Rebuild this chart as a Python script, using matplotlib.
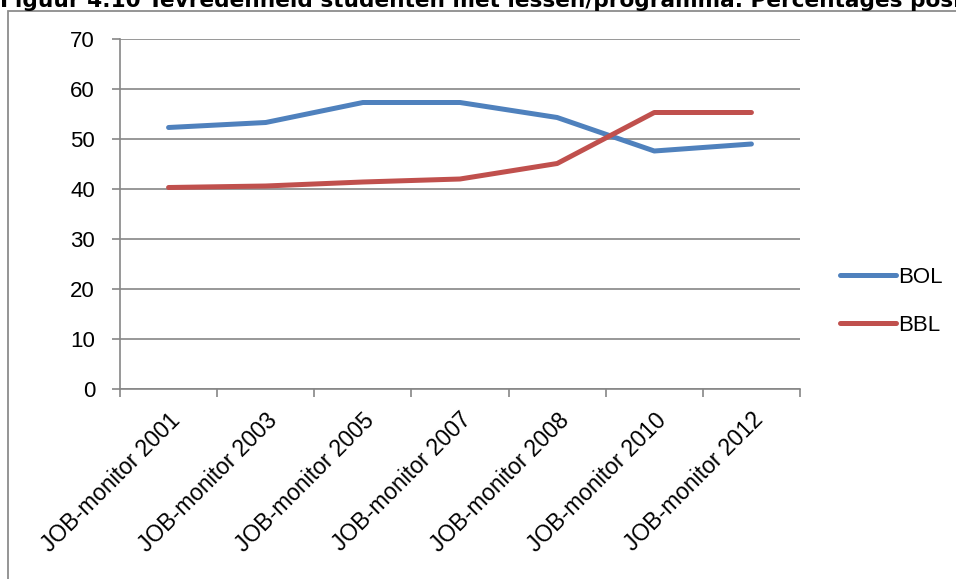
import matplotlib
matplotlib.use("Agg")
import matplotlib.pyplot as plt
from matplotlib.patches import Rectangle

categories = ["JOB-monitor 2001", "JOB-monitor 2003", "JOB-monitor 2005",
              "JOB-monitor 2007", "JOB-monitor 2008", "JOB-monitor 2010",
              "JOB-monitor 2012"]
bol = [52.3, 53.3, 57.3, 57.3, 54.3, 47.6, 49.0]
bbl = [40.3, 40.6, 41.4, 42.0, 45.1, 55.3, 55.3]
yticks = [0, 10, 20, 30, 40, 50, 60, 70]
title = "Figuur 4.10 Tevredenheid studenten met lessen/programma. Percentages positief"

W, H = 956, 579
fig = plt.figure(figsize=(W / 100, H / 100), dpi=100)
fig.patch.set_facecolor("white")

font = "Liberation Sans"
grid_c = "#868686"

# outer chart frame
fig.patches.append(Rectangle((8 / W, -0.1), 1.2, 1.1 - 10.5 / H, transform=fig.transFigure,
                             fill=False, edgecolor="#8c8c8c", linewidth=1.3, zorder=0))
fig.text(0 / W, 1 - 7 / H, title, fontsize=15.6, fontweight="bold", family="DejaVu Sans",
         ha="left", va="baseline", color="black")

ax = fig.add_axes([120 / W, 1 - 389 / H, 680 / W, 350 / H])
x = list(range(len(categories)))
ax.plot(x, bol, color="#4F81BD", lw=3.6, solid_capstyle="round", label="BOL", zorder=3)
ax.plot(x, bbl, color="#C0504D", lw=3.6, solid_capstyle="round", label="BBL", zorder=3)

ax.set_xlim(-0.5, len(categories) - 0.5)
ax.set_ylim(0, 70)
ax.set_yticks(yticks)
ax.set_yticklabels([str(v) for v in yticks], fontsize=16, family=font)
ax.yaxis.grid(True, color=grid_c, lw=1.2)
ax.set_axisbelow(True)

ax.set_xticks([i - 0.5 for i in range(len(categories) + 1)])
ax.set_xticklabels([])
ax.set_xticks(x, minor=True)
ax.set_xticklabels(categories, minor=True, rotation=45, ha="right", va="top",
                   rotation_mode="anchor", fontsize=16.5, family=font)
ax.tick_params(axis="x", which="minor", length=0, pad=14)
ax.tick_params(axis="x", which="major", length=6, color=grid_c, width=1.2)
ax.tick_params(axis="y", length=6, color=grid_c, width=1.2, pad=12)

for s in ["top", "right"]:
    ax.spines[s].set_visible(False)
for s in ["left", "bottom"]:
    ax.spines[s].set_color(grid_c)
    ax.spines[s].set_linewidth(1.2)

leg = ax.legend(loc="center left", bbox_to_anchor=(1 + 40 / 680, 0.25), frameon=False,
                prop={"family": font, "size": 16}, handlelength=2.5, handletextpad=0.1,
                labelspacing=1.2, borderaxespad=0, borderpad=0)

fig.savefig("out.png", dpi=100)
